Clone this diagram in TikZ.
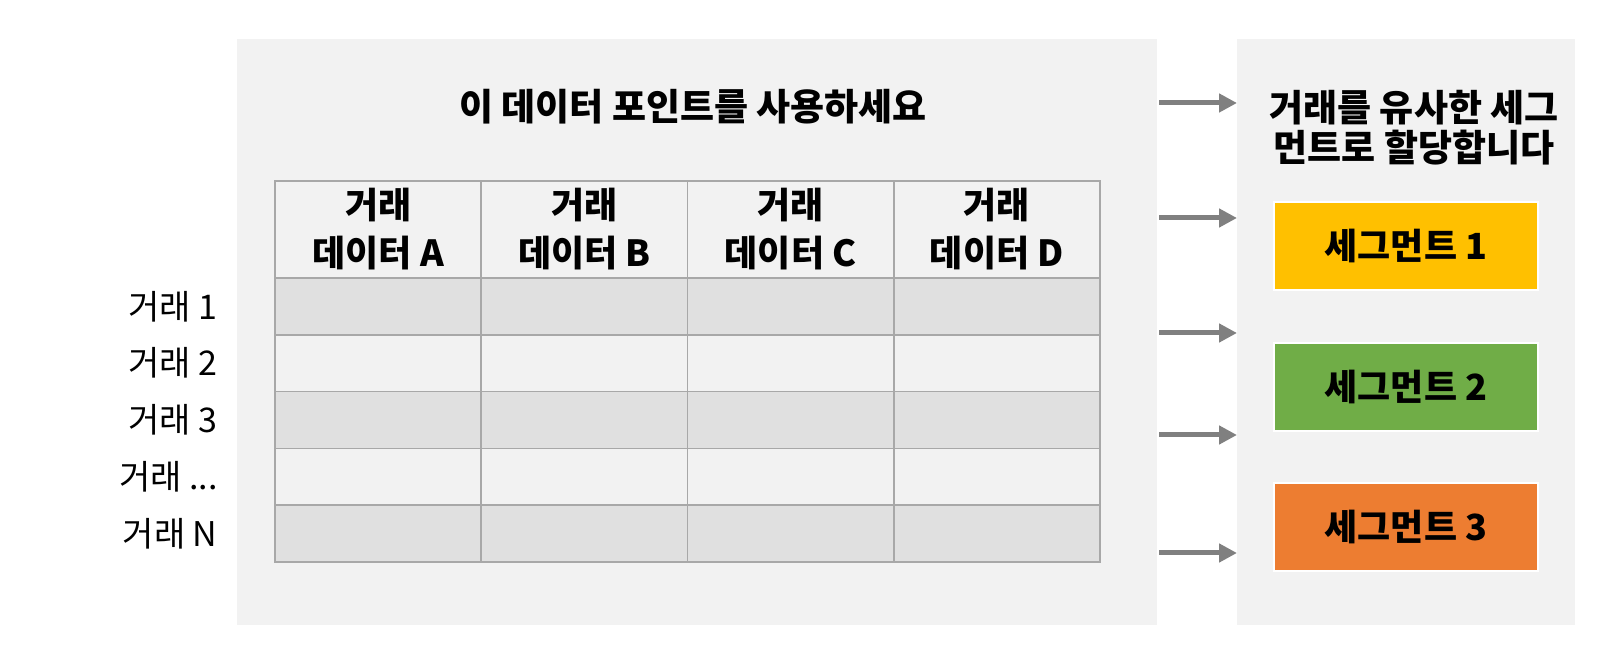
\documentclass[tikz,border=0pt]{standalone}
\usepackage{fontspec}
\setmainfont{Noto Sans CJK KR}
\usetikzlibrary{arrows.meta, positioning, calc}
\definecolor{panelgray}{RGB}{242,242,242}
\definecolor{rowgray}{RGB}{224,224,224}
\definecolor{gridgray}{RGB}{168,168,168}
\definecolor{arrowgray}{RGB}{128,128,128}
\definecolor{segyellow}{RGB}{255,192,0}
\definecolor{seggreen}{RGB}{112,173,71}
\definecolor{segorange}{RGB}{237,125,49}
\newcommand\rowdots{...}

\begin{document}
\begin{tikzpicture}[x=0.5pt, y=0.5pt,
    seg/.style={draw=white, line width=1pt, minimum width=132pt, minimum height=44pt,
        font=\fontsize{18}{21}\selectfont\bfseries},
    rowlabel/.style={anchor=east, inner sep=0pt, font=\fontsize{17}{20}\selectfont},
    colhead/.style={align=center, inner sep=0pt, font=\fontsize{18}{24}\selectfont\bfseries},
    flow/.style={-{Triangle[length=9pt, width=9pt]}, line width=2.5pt, arrowgray}]
    % Define dimensions
    \def\tabx{275}
    \def\taby{181}
    \def\colw{206.25}
    \def\headh{97}
    \def\rowh{56.8}

    % Page and the two panels
    \useasboundingbox (0,0) rectangle (1616,-656);
    \fill[white] (0,0) rectangle (1616,-656);
    \fill[panelgray] (237,-39) rectangle (1157,-625);
    \fill[panelgray] (1237,-39) rectangle (1575,-625);

    % Title of the left panel
    \node[font=\fontsize{18.5}{21}\selectfont\bfseries] (title) at (693,-107) {이 데이터 포인트를 사용하세요};

    % Shaded rows of the table
    \foreach \r in {0,2,4} {
        \fill[rowgray] (\tabx, -\taby-\headh-\r*\rowh) rectangle (\tabx+4*\colw, -\taby-\headh-\r*\rowh-\rowh);
    }

    % Row lines and column dividers
    \foreach \r in {1,...,4} {
        \draw[gridgray, line width=0.8pt] (\tabx, -\taby-\headh-\r*\rowh) -- (\tabx+4*\colw, -\taby-\headh-\r*\rowh);
    }
    \foreach \c in {1,2,3} {
        \draw[gridgray, line width=0.8pt] (\tabx+\c*\colw, -\taby) -- (\tabx+\c*\colw, -\taby-\headh-5*\rowh);
    }
    % Header separator and table border
    \draw[gridgray, line width=1.3pt] (\tabx, -\taby-\headh) -- (\tabx+4*\colw, -\taby-\headh);
    \draw[gridgray, line width=0.8pt] (\tabx, -\taby) rectangle (\tabx+4*\colw, -\taby-\headh-5*\rowh);

    % Header labels
    \foreach \lab [count=\c] in {A,B,C,D} {
        \node[colhead] (head\lab) at (\tabx+\c*\colw-\colw/2, -\taby-\headh/2) {거래\\데이터 \lab};
    }

    % Row labels
    \foreach \lab [count=\r] in {1,2,3,\rowdots,N} {
        \node[rowlabel] (row\r) at (218, -\taby-\headh-\r*\rowh+\rowh/2) {거래 \lab};
    }

    % Right panel title and segments
    \node[align=center, font=\fontsize{18.5}{20}\selectfont\bfseries] (assign) at (1414,-128) {거래를 유사한 세그\\먼트로 할당합니다};
    \node[seg, fill=segyellow] (seg1) at (1406,-246) {세그먼트 1};
    \node[seg, fill=seggreen] (seg2) at (1406,-387) {세그먼트 2};
    \node[seg, fill=segorange] (seg3) at (1406,-527) {세그먼트 3};

    % Arrows between the panels
    \foreach \y [count=\i] in {103,218,333,435,553} {
        \coordinate (from\i) at (1159,-\y);
        \coordinate (to\i) at (1237,-\y);
        \draw[flow] (from\i) -- (to\i);
    }
\end{tikzpicture}
\end{document}
